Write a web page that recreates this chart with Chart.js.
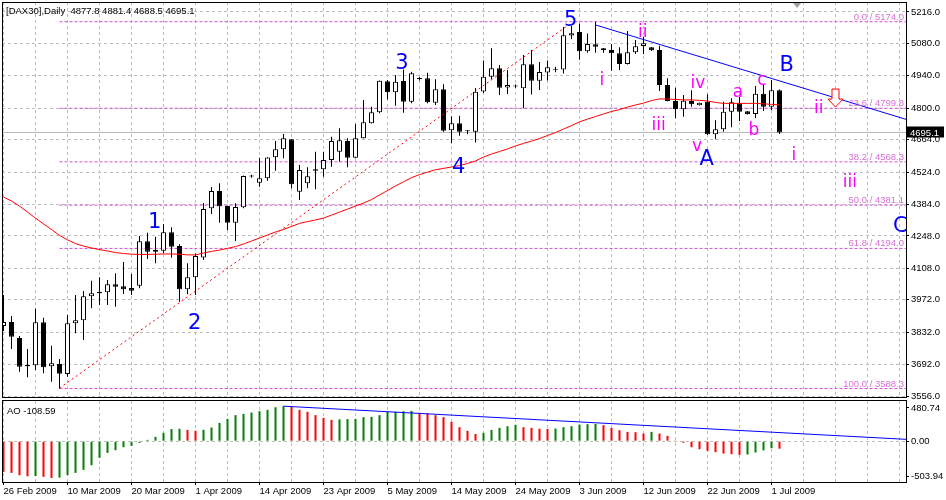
<!DOCTYPE html>
<html><head><meta charset="utf-8">
<script src="https://cdn.jsdelivr.net/npm/chart.js@4.4.1/dist/chart.umd.min.js"></script>
<style>
html,body{margin:0;padding:0;background:#fff;overflow:hidden}
#wrap{position:relative;width:946px;height:500px;background:#fff}
#c1{position:absolute;left:0;top:0}
#c2{position:absolute;left:0;top:400px}
</style></head><body>
<div id="wrap">
<canvas id="c1" width="946" height="400"></canvas>
<canvas id="c2" width="946" height="100"></canvas>
</div>
<script>
// ---------------- DATA ----------------
const dateLabels = ['26 Feb 2009','10 Mar 2009','20 Mar 2009','1 Apr 2009','14 Apr 2009','23 Apr 2009','5 May 2009','14 May 2009','24 May 2009','3 Jun 2009','12 Jun 2009','22 Jun 2009','1 Jul 2009'];
const dateLabelBars = [0,8,16,24,32,40,48,56,64,72,80,88,96];

const opens = [
3858.6,3875.9,3806.7,3690.0,3688.7,3874.6,3684.4,3694.3,3651.1,3870.3,
3883.3,3987.0,4005.6,4004.3,4038.9,4030.2,4022.9,4032.8,4224.8,4187.1,
4184.1,4263.7,4204.4,4017.3,4069.1,4154.7,4367.4,4442.2,4377.4,4305.2,
4371.7,4504.5,4478.1,4497.1,4587.9,4622.5,4665.7,4439.2,4475.5,4536.0,
4536.0,4576.2,4612.1,4658.4,4586.2,4670.0,4734.9,4782.4,4916.4,4868.9,
4917.7,4828.2,4929.4,4929.4,4823.9,4881.9,4704.6,4734.9,4702.9,4698.6,
4872.3,4936.3,4972.6,4889.6,4893.5,4886.2,4989.9,4919.0,4954.5,4966.2,
4967.5,5114.4,5129.6,5046.1,5076.8,5059.5,5051.7,5037.5,4991.2,5041.8,
5069.0,5063.9,5051.7,4900.4,4831.3,4795.4,4831.3,4812.7,4828.2,4687.3,
4708.9,4785.0,4821.3,4786.7,4775.1,4862.8,4806.6,4877.8];
const highs = [
3992.6,3901.8,3815.4,3759.2,3933.4,3894.5,3773.4,3716.0,3906.2,3992.6,
4009.9,4054.4,4069.1,4057.5,4086.4,4135.3,4083.4,4247.7,4261.9,4244.6,
4298.3,4285.3,4211.8,4129.6,4172.9,4390.3,4459.5,4475.5,4378.7,4389.0,
4509.2,4512.7,4586.2,4587.9,4658.4,4688.6,4667.0,4554.6,4544.7,4612.1,
4612.1,4676.9,4713.3,4670.0,4731.8,4835.6,4806.6,4919.9,4922.1,4943.7,
4967.5,4957.9,4935.0,4953.6,4925.1,4903.5,4765.1,4767.7,4704.6,4887.5,
5006.4,5059.1,4986.9,4965.3,4902.6,5030.1,5051.7,4999.9,5006.4,4979.6,
5151.2,5155.5,5166.3,5123.1,5174.0,5060.4,5077.7,5063.4,5133.9,5095.0,
5109.2,5064.7,5070.3,4929.4,4888.8,4857.2,4877.5,4824.8,4860.2,4747.8,
4828.2,4842.9,4849.9,4787.2,4896.1,4904.8,4922.1,4881.4];
const lows = [
3837.0,3759.2,3661.0,3636.8,3668.4,3654.1,3617.8,3588.3,3639.4,3827.0,
3798.1,3935.1,3949.4,3949.4,3942.0,3996.9,3992.6,4021.6,4148.2,4129.6,
4172.9,4153.9,3963.7,3995.6,3992.6,4143.9,4342.8,4305.2,4273.6,4226.1,
4367.4,4499.7,4460.8,4486.7,4530.0,4583.6,4453.9,4403.3,4453.9,4449.6,
4504.0,4547.3,4568.9,4544.7,4584.9,4669.2,4734.0,4778.1,4838.6,4811.0,
4780.7,4821.3,4919.9,4821.3,4814.0,4698.6,4648.4,4681.3,4687.3,4651.9,
4865.9,4924.2,4857.2,4861.5,4887.5,4799.7,4859.4,4878.8,4919.9,4955.3,
4950.2,5098.4,5009.8,5040.1,5040.1,5040.1,4962.3,4965.3,4989.1,5034.5,
5034.5,5047.4,4874.5,4830.0,4756.5,4763.4,4806.6,4811.8,4684.3,4665.7,
4698.6,4717.6,4744.8,4772.9,4756.5,4788.0,4792.4,4688.5];
const closes = [
3875.9,3812.3,3682.7,3684.4,3874.6,3680.1,3697.3,3652.4,3870.3,3883.3,
3987.0,4000.0,3999.9,4038.9,4028.5,4017.3,4011.2,4224.8,4179.8,4179.8,
4263.7,4201.4,4017.3,4069.1,4161.2,4364.4,4442.2,4376.1,4305.2,4373.0,
4507.1,4507.1,4497.1,4587.0,4622.5,4670.0,4471.2,4533.0,4505.8,4530.0,
4576.2,4658.4,4661.4,4586.2,4670.0,4739.2,4782.4,4919.0,4868.9,4914.7,
4828.2,4951.0,4926.4,4825.7,4881.9,4702.9,4734.9,4698.6,4700.3,4871.5,
4936.3,4972.6,4888.8,4900.4,4896.1,4989.9,4919.0,4956.6,4977.0,4968.3,
5115.3,5123.9,5046.1,5077.7,5066.0,5051.7,5037.5,4991.2,5041.8,5067.7,
5080.7,5050.5,4900.4,4831.3,4796.7,4832.6,4817.0,4823.9,4687.3,4708.9,
4785.0,4825.7,4785.0,4773.8,4862.8,4806.6,4877.5,4695.1];

const maValues = [
4416,4399,4377,4351,4325,4300,4276,4250,4231,4215,
4204,4196,4189,4183,4176,4172,4169,4168,4168,4169,
4170,4170,4169,4166,4166,4174,4181,4187,4194,4202,
4213,4226,4239,4252,4265,4276,4289,4302,4310,4317,
4325,4338,4351,4364,4377,4390,4405,4425,4444,4464,
4482,4500,4513,4524,4534,4540,4546,4552,4561,4572,
4589,4602,4613,4624,4637,4648,4658,4669,4682,4695,
4710,4725,4741,4753,4764,4775,4786,4794,4805,4814,
4822,4833,4840,4840,4838,4836,4836,4834,4831,4825,
4821,4821,4821,4821,4821,4819,4817,4814];

const aoValues = [
-444,-459,-492,-508,-505,-516,-532,-528,-492,-459,
-415,-348,-241,-169,-130,-87,-68,-24,19,63,
121,176,180,164,150,165,198,265,323,377,
396,415,434,454,492,507,497,454,425,377,
338,309,316,320,323,348,352,377,422,426,
434,439,410,401,377,348,280,203,150,104,
121,164,193,217,237,203,193,180,176,183,
203,217,241,246,251,232,193,159,135,130,
111,135,111,77,10,-24,-87,-116,-140,-159,
-179,-188,-198,-193,-164,-133,-102,-108.59];

const priceTicks = [5216.0,5080.0,4940.0,4800.0,4664.0,4524.0,4384.0,4248.0,4108.0,3972.0,3832.0,3692.0,3556.0];
const aoTicks = [480.74, 0.00, -503.94];

const fibLevels = [0.0, 23.6, 38.2, 50.0, 61.8, 100.0];
const fibPrices = [5174.0, 4799.8, 4568.3, 4381.1, 4194.0, 3588.3];
const fibStartBar = 7;

const trendMain = [{x:74, y:5160}, {x:112.8125, y:4752}];
const fibBase = [{x:7, y:3590}, {x:70.3, y:5152}];
const aoTrend = [{x:35, y:507}, {x:112.8125, y:27}];

const waveBlue = [
 {t:'1', bar:18.9, price:4282.3},
 {t:'2', bar:23.9, price:3845.6},
 {t:'3', bar:49.8, price:4969.6},
 {t:'4', bar:56.9, price:4520.0},
 {t:'5', bar:70.9, price:5155.5},
 {t:'A', bar:87.9, price:4554.6},
 {t:'B', bar:97.9, price:4961.0},
 {t:'C', bar:112.1, price:4265.0}];
const wavePink = [
 {t:'i', bar:74.8, price:4900.4},
 {t:'ii', bar:79.9, price:5107.9},
 {t:'iii', bar:81.9, price:4705.9},
 {t:'iv', bar:86.8, price:4887.5},
 {t:'v', bar:86.7, price:4615.1},
 {t:'a', bar:91.8, price:4848.6},
 {t:'b', bar:93.8, price:4684.3},
 {t:'c', bar:94.8, price:4900.4},
 {t:'ii', bar:101.9, price:4779.4},
 {t:'i', bar:98.8, price:4576.2},
 {t:'iii', bar:105.8, price:4459.5}];
const sellArrow = {bar:104, price:4805};
const shiftBar = 99.2;

// ---------------- SETUP ----------------
const xMin = -0.1875, xMax = 112.8125;
const gridTicks = [];
for (let b = 0; b <= 112; b += 4) gridTicks.push(b);
const N = opens.length;
const lastClose = closes[N-1];
const FONT = '"Liberation Sans", Arial, sans-serif';
Chart.defaults.font.family = FONT;
Chart.defaults.font.size = 9.5;
Chart.defaults.color = '#000';

const bodyFill = opens.map((o,i) => closes[i] >= o ? '#FFFFFF' : '#000000');
const aoRising = aoValues.map((v,i) => i > 0 && v > aoValues[i-1]);

const GRID = '#BEBEBE';

const mainDeco = {
  id:'mainDeco',
  afterDraw(chart){
    const {ctx, chartArea:a, scales:{x, y}} = chart;
    ctx.save();
    ctx.beginPath(); ctx.rect(a.left, a.top, a.right-a.left, a.bottom-a.top); ctx.clip();
    ctx.font = '9.5px ' + FONT;
    ctx.fillStyle = '#DA70D6'; ctx.textAlign = 'right'; ctx.textBaseline = 'alphabetic';
    fibLevels.forEach((lv,k) => {
      ctx.fillText(lv.toFixed(1) + ' / ' + fibPrices[k].toFixed(1), a.right - 2, y.getPixelForValue(fibPrices[k]) - 2);
    });
    ctx.textAlign = 'center';
    ctx.font = '21px "DejaVu Sans"'; ctx.fillStyle = '#0000FF';
    waveBlue.forEach(w => ctx.fillText(w.t, x.getPixelForValue(w.bar), y.getPixelForValue(w.price)));
    ctx.font = '17px "DejaVu Sans"'; ctx.fillStyle = '#FF00FF';
    wavePink.forEach(w => ctx.fillText(w.t, x.getPixelForValue(w.bar), y.getPixelForValue(w.price)));
    const ax = x.getPixelForValue(sellArrow.bar), ay = y.getPixelForValue(sellArrow.price);
    ctx.beginPath();
    ctx.moveTo(ax-3.5, ay-18); ctx.lineTo(ax+3.5, ay-18); ctx.lineTo(ax+3.5, ay-8);
    ctx.lineTo(ax+7.5, ay-8); ctx.lineTo(ax, ay); ctx.lineTo(ax-7.5, ay-8); ctx.lineTo(ax-3.5, ay-8);
    ctx.closePath();
    ctx.fillStyle = '#FFFFFF'; ctx.fill();
    ctx.strokeStyle = '#FF0000'; ctx.lineWidth = 1; ctx.stroke();
    const sx = x.getPixelForValue(shiftBar);
    ctx.beginPath(); ctx.moveTo(sx-4, a.top+1); ctx.lineTo(sx+4, a.top+1); ctx.lineTo(sx, a.top+6); ctx.closePath();
    ctx.fillStyle = '#A0A0A0'; ctx.fill();
    ctx.restore();
    ctx.save();
    ctx.strokeStyle = '#000'; ctx.lineWidth = 1;
    ctx.strokeRect(a.left+0.5, a.top+0.5, a.right-a.left, a.bottom-a.top-1);
    ctx.font = '9.5px ' + FONT; ctx.fillStyle = '#000'; ctx.textAlign = 'left'; ctx.textBaseline = 'alphabetic';
    ctx.fillText('[DAX30],Daily  ' + [opens[N-1], highs[N-1], lows[N-1], closes[N-1]].map(v => v.toFixed(1)).join(' '), 6, 14);
    const py = y.getPixelForValue(lastClose);
    ctx.fillStyle = '#000'; ctx.fillRect(a.right+1, Math.round(py)-5.5, 37, 11);
    ctx.fillStyle = '#FFF'; ctx.textBaseline = 'middle';
    ctx.fillText(lastClose.toFixed(1), a.right+4, py+0.5);
    ctx.restore();
  }
};

const aoDeco = {
  id:'aoDeco',
  afterDraw(chart){
    const {ctx, chartArea:a} = chart;
    ctx.save();
    ctx.strokeStyle = '#000'; ctx.lineWidth = 1;
    ctx.strokeRect(a.left+0.5, a.top-0.5, a.right-a.left, a.bottom-a.top+1);
    ctx.font = '9.5px ' + FONT; ctx.fillStyle = '#000'; ctx.textAlign = 'left'; ctx.textBaseline = 'alphabetic';
    ctx.fillText('AO ' + aoValues[N-1].toFixed(2), 7, 14);
    ctx.restore();
  }
};

const lineDS = (data, color, dash) => ({type:'line', data, borderColor:color, borderWidth:1, borderDash:dash||[], pointRadius:0, fill:false, tension:0});

new Chart(document.getElementById('c1'), {
  type:'line',
  data:{datasets:[
    lineDS(maValues.map((v,i) => ({x:i, y:v})), '#FF0000'),
    lineDS(trendMain, '#0000FF'),
    lineDS(fibBase, '#FF0000', [2,3]),
    {type:'bar', data: opens.map((o,i) => ({x:i, y:[o, closes[i]]})), backgroundColor: bodyFill, borderColor:'#000', borderWidth:1, borderSkipped:false, barThickness:5, grouped:false, minBarLength:1, inflateAmount:0},
    {type:'bar', data: lows.map((l,i) => ({x:i, y:[l, highs[i]]})), backgroundColor:'#000', borderWidth:0, barThickness:1, grouped:false, inflateAmount:0},
    ...fibPrices.map(p => lineDS([{x:fibStartBar, y:p}, {x:xMax, y:p}], '#D050D0', [3,2])),
    lineDS([{x:xMin, y:lastClose}, {x:xMax, y:lastClose}], '#B8B8B8')
  ]},
  options:{
    responsive:false, animation:false, events:[],
    layout:{padding:{left:2, top:2, right:0, bottom:2}},
    plugins:{legend:{display:false}, tooltip:{enabled:false}},
    scales:{
      x:{type:'linear', min:xMin, max:xMax, offset:false, bounds:'data',
        afterBuildTicks: s => { s.ticks = gridTicks.map(v => ({value:v})); },
        afterFit: s => { s.height = 0; s.paddingLeft = 0; s.paddingRight = 0; },
        ticks:{display:false},
        grid:{color:GRID, lineWidth:1, drawTicks:false, offset:false},
        border:{display:false, dash:[3,3]}},
      y:{type:'linear', position:'right', min:3547.4, max:5259.2, bounds:'data',
        afterBuildTicks: s => { s.ticks = priceTicks.map(v => ({value:v})); },
        afterFit: s => { s.width = 40; s.paddingTop = 0; s.paddingBottom = 0; },
        ticks:{autoSkip:false, padding:2, color:'#000', callback: v => Number(v).toFixed(1)},
        grid:{color:GRID, lineWidth:1, tickColor:'#000', tickLength:3, tickBorderDash:[], drawTicks:true},
        border:{display:false, dash:[3,3]}}
    }
  },
  plugins:[mainDeco]
});

new Chart(document.getElementById('c2'), {
  type:'line',
  data:{datasets:[
    lineDS(aoTrend, '#0000FF'),
    {type:'bar', label:'AO up', data: aoValues.map((v,i) => ({x:i, y: aoRising[i] ? v : null})),
     backgroundColor:'#008000', borderWidth:0, barThickness:2, grouped:false, inflateAmount:0},
    {type:'bar', label:'AO down', data: aoValues.map((v,i) => ({x:i, y: aoRising[i] ? null : v})),
     backgroundColor:'#FF0000', borderWidth:0, barThickness:2, grouped:false, inflateAmount:0}
  ]},
  options:{
    responsive:false, animation:false, events:[],
    layout:{padding:{left:2, top:1, right:0, bottom:0}},
    plugins:{legend:{display:false}, tooltip:{enabled:false}, colors:{enabled:false}},
    scales:{
      x:{type:'linear', min:xMin, max:xMax, offset:false, bounds:'data',
        afterBuildTicks: s => { s.ticks = gridTicks.map(v => ({value:v})); },
        afterFit: s => { s.height = 18; s.paddingLeft = 0; s.paddingRight = 0; },
        ticks:{autoSkip:false, maxRotation:0, minRotation:0, align:'start', padding:1, color:'#000',
          callback: v => { const k = dateLabelBars.indexOf(v); return k < 0 ? '' : dateLabels[k]; }},
        grid:{color:GRID, lineWidth:1, drawTicks:true, tickLength:3, tickBorderDash:[], offset:false,
          tickColor: c => (c.tick && dateLabelBars.includes(c.tick.value)) ? '#000' : 'rgba(0,0,0,0)'},
        border:{display:false, dash:[3,3]}},
      y:{type:'linear', position:'right', min:-590.8, max:582.1, bounds:'data',
        afterBuildTicks: s => { s.ticks = aoTicks.map(v => ({value:v})); },
        afterFit: s => { s.width = 40; s.paddingTop = 0; s.paddingBottom = 0; },
        ticks:{autoSkip:false, padding:2, color:'#000', callback: v => Number(v).toFixed(2)},
        grid:{lineWidth:1, tickColor:'#000', tickLength:3, tickBorderDash:[], drawTicks:true,
          color: c => (c.tick && c.tick.value === 0) ? GRID : 'rgba(0,0,0,0)'},
        border:{display:false, dash:[3,3]}}
    }
  },
  plugins:[aoDeco]
});
</script>
</body></html>
